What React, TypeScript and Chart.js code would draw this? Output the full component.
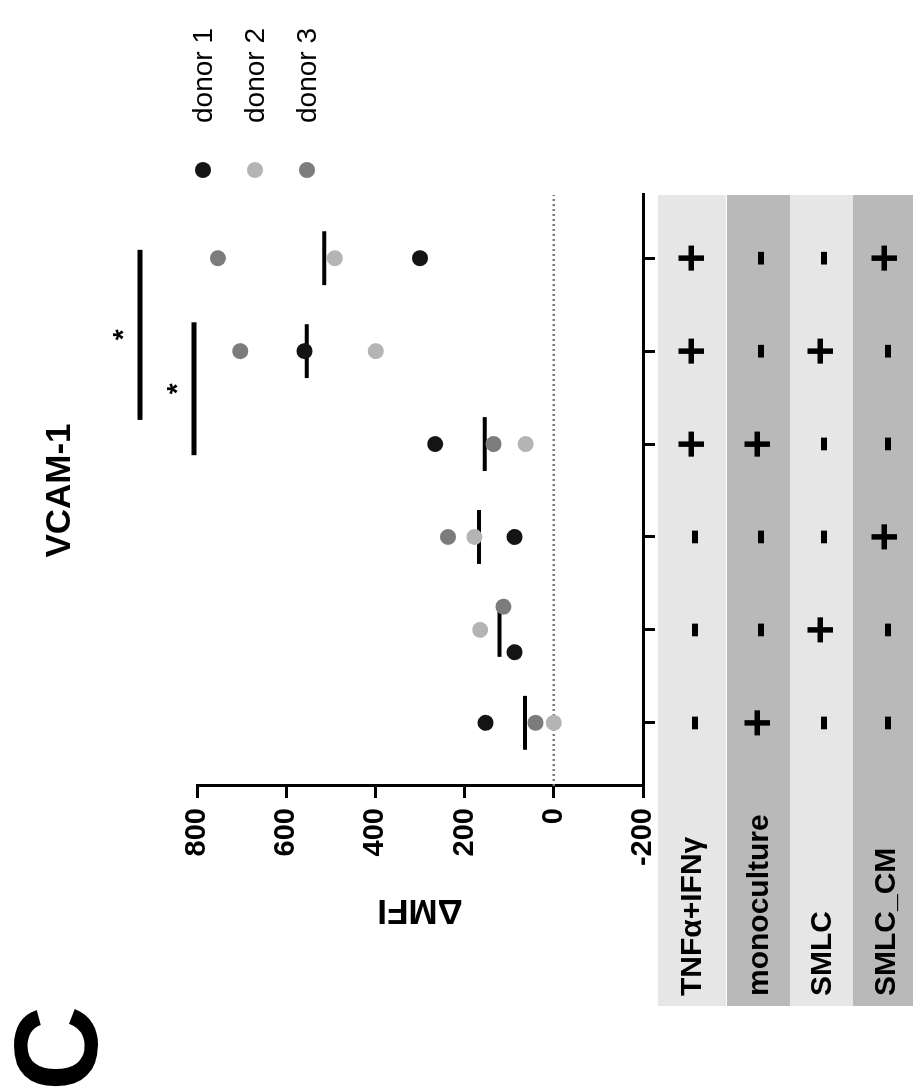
import React, { useEffect, useRef } from "react";
import { Chart, registerables } from "chart.js";

Chart.register(...registerables);

// ---------------- data ----------------
const categories = [1, 2, 3, 4, 5, 6];
const donor1 = [153, 88, 88, 266, 559, 300];
const donor2 = [0, 165, 178, 63, 399, 491];
const donor3 = [41, 113, 237, 135, 703, 753];
const donor1Jitter = [0, -0.24, 0, 0, 0, 0];
const donor2Jitter = [0, 0, 0, 0, 0, 0];
const donor3Jitter = [0, 0.25, 0, 0, 0, 0];
const yTicks = [-200, 0, 200, 400, 600, 800];
const rowLabels = ["TNFα+IFNγ", "monoculture", "SMLC", "SMLC_CM"];
const tnfRow = ["-", "-", "-", "+", "+", "+"];
const monoRow = ["+", "-", "-", "+", "-", "-"];
const smlcRow = ["-", "+", "-", "-", "+", "-"];
const cmRow = ["-", "-", "+", "-", "-", "+"];
const sigValues = [807, 928];
const sigFrom = [3.88, 4.26];
const sigTo = [5.31, 6.09];
const sigLabels = ["*", "*"];
const legendLabels = ["donor 1", "donor 2", "donor 3"];
const chartTitle = "VCAM-1";
const panelLetter = "C";

// ---------------- styles ----------------
const FONT = "'Liberation Sans', Arial, sans-serif";
const C1 = "#141414";
const C2 = "#b4b4b4";
const C3 = "#7c7c7c";
const BAND_LIGHT = "#e6e6e6";
const BAND_DARK = "#b9b9b9";
const W = 1091;
const H = 913;

const rowsMarks = [tnfRow, monoRow, smlcRow, cmRow];
const rowOffsets = [
  [15, 83],
  [84, 147],
  [147, 210],
  [210, 275],
];
const rowColors = [BAND_LIGHT, BAND_DARK, BAND_LIGHT, BAND_DARK];

const decoPlugin = {
  id: "deco",
  beforeDraw(chart: any) {
    const { ctx, chartArea } = chart;
    ctx.save();
    ctx.fillStyle = "#ffffff";
    ctx.fillRect(0, 0, chart.width, chart.height);
    rowOffsets.forEach((r, i) => {
      ctx.fillStyle = rowColors[i];
      ctx.fillRect(85, chartArea.bottom + r[0], chartArea.right - 85, r[1] - r[0]);
    });
    ctx.restore();
  },
  beforeDatasetsDraw(chart: any) {
    const { ctx, chartArea, scales } = chart;
    const y0 = scales.y.getPixelForValue(0);
    ctx.save();
    ctx.strokeStyle = "#7a7a7a";
    ctx.lineWidth = 2.5;
    ctx.setLineDash([2, 3]);
    ctx.beginPath();
    ctx.moveTo(chartArea.left, y0);
    ctx.lineTo(chartArea.right, y0);
    ctx.stroke();
    ctx.restore();
  },
  afterDraw(chart: any) {
    const { ctx, chartArea, scales } = chart;
    const xs = scales.x;
    const ys = scales.y;
    ctx.save();
    ctx.fillStyle = "#000";
    // table marks
    ctx.textAlign = "center";
    ctx.textBaseline = "middle";
    rowsMarks.forEach((row, r) => {
      const cy = chartArea.bottom + (rowOffsets[r][0] + rowOffsets[r][1]) / 2;
      row.forEach((m, i) => {
        ctx.font = `bold 50px ${FONT}`;
        ctx.fillText(m, xs.getPixelForValue(categories[i]), cy + 2);
      });
    });
    // row labels
    ctx.textAlign = "left";
    ctx.font = `bold 30px ${FONT}`;
    rowLabels.forEach((lab, r) => {
      const cy = chartArea.bottom + (rowOffsets[r][0] + rowOffsets[r][1]) / 2;
      ctx.fillText(lab, 95, cy + 1);
    });
    // significance labels
    ctx.textAlign = "center";
    ctx.textBaseline = "bottom";
    ctx.font = `bold 28px ${FONT}`;
    sigLabels.forEach((s, i) => {
      const mx = xs.getPixelForValue((sigFrom[i] + sigTo[i]) / 2);
      ctx.fillText(s, mx, ys.getPixelForValue(sigValues[i]) - 2);
    });
    // title
    ctx.textBaseline = "middle";
    ctx.font = `bold 35px ${FONT}`;
    ctx.fillText(chartTitle, (chartArea.left + chartArea.right) / 2, 60);
    // legend
    const lcolors = [C1, C2, C3];
    ctx.font = `28px ${FONT}`;
    ctx.textAlign = "left";
    legendLabels.forEach((l, i) => {
      const cy = 203 + i * 52;
      ctx.fillStyle = lcolors[i];
      ctx.beginPath();
      ctx.arc(921, cy, 8, 0, Math.PI * 2);
      ctx.fill();
      ctx.fillStyle = "#000";
      ctx.fillText(l, 968, cy + 1);
    });
    // panel letter
    ctx.font = `bold 118px ${FONT}`;
    ctx.textBaseline = "alphabetic";
    ctx.fillText(panelLetter, 0, 97);
    ctx.restore();
  },
};

function makePoints(vals: number[], jit: number[]) {
  return categories.map((c, i) => ({ x: c + jit[i], y: vals[i] }));
}

export default function App() {
  const ref = useRef<HTMLCanvasElement | null>(null);
  useEffect(() => {
    if (!ref.current) return;
    Chart.defaults.font.family = FONT;
    const means = categories.map((_, i) => (donor1[i] + donor2[i] + donor3[i]) / 3);
    const meanData: any[] = [];
    categories.forEach((c, i) => {
      meanData.push({ x: c - 0.29, y: means[i] }, { x: c + 0.29, y: means[i] }, { x: c, y: null });
    });
    const sigSets = sigValues.map((v, i) => ({
      type: "line",
      data: [
        { x: sigFrom[i], y: v },
        { x: sigTo[i], y: v },
      ],
      borderColor: "#000",
      borderWidth: 5,
      pointRadius: 0,
      clip: false,
      showLine: true,
    }));
    const axisGrid = {
      display: true,
      drawOnChartArea: false,
      drawTicks: true,
      tickLength: 12,
      color: "#000",
      lineWidth: 3,
    };
    const chart = new Chart(ref.current, {
      type: "scatter",
      data: {
        datasets: [
          {
            label: "donor 2",
            data: makePoints(donor2, donor2Jitter),
            backgroundColor: C2,
            borderWidth: 0,
            pointRadius: 8,
          },
          {
            label: "donor 3",
            data: makePoints(donor3, donor3Jitter),
            backgroundColor: C3,
            borderWidth: 0,
            pointRadius: 8,
          },
          {
            label: "donor 1",
            data: makePoints(donor1, donor1Jitter),
            backgroundColor: C1,
            borderWidth: 0,
            pointRadius: 8,
          },
          {
            type: "line",
            label: "mean",
            data: meanData,
            borderColor: "#000",
            borderWidth: 4,
            pointRadius: 0,
            spanGaps: false,
            showLine: true,
          },
          ...sigSets,
        ] as any,
      },
      options: {
        responsive: false,
        animation: false,
        events: [],
        layout: { padding: { left: 160, top: 197, right: 195, bottom: 0 } },
        plugins: { legend: { display: false }, tooltip: { enabled: false } },
        scales: {
          x: {
            type: "linear",
            min: 0.32,
            max: 6.68,
            afterBuildTicks: (s: any) => {
              s.ticks = categories.map((v) => ({ value: v }));
            },
            afterFit: (s: any) => {
              s.height = 270;
            },
            ticks: { display: false },
            grid: axisGrid,
            border: { display: true, color: "#000", width: 3 },
          },
          y: {
            type: "linear",
            min: -200,
            max: 800,
            afterBuildTicks: (s: any) => {
              s.ticks = yTicks.map((v) => ({ value: v }));
            },
            afterFit: (s: any) => {
              s.width = 145;
            },
            ticks: {
              color: "#000",
              padding: 10,
              font: { size: 29, weight: "bold", family: FONT },
            },
            grid: axisGrid,
            border: { display: true, color: "#000", width: 3 },
            title: {
              display: true,
              text: "ΔMFI",
              color: "#000",
              padding: { top: 0, bottom: 0 },
              font: { size: 35, weight: "bold", family: FONT },
            },
          },
        },
      } as any,
      plugins: [decoPlugin],
    });
    return () => chart.destroy();
  }, []);

  return (
    <div
      style={{
        position: "absolute",
        left: 0,
        top: 0,
        width: 913,
        height: 1091,
        overflow: "hidden",
        background: "#fff",
      }}
    >
      <div
        style={{
          position: "absolute",
          left: 0,
          top: 0,
          width: W,
          height: H,
          transformOrigin: "0 0",
          transform: `translate(0px, ${W}px) rotate(-90deg)`,
        }}
      >
        <canvas ref={ref} width={W} height={H} style={{ display: "block" }} />
      </div>
    </div>
  );
}
